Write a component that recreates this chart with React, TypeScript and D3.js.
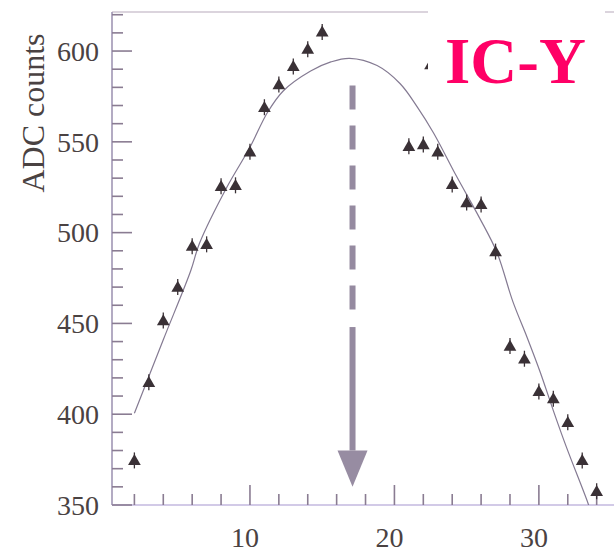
import React from 'react';
import * as d3 from 'd3';

const channels = [2, 3, 4, 5, 6, 7, 8, 9, 10, 11, 12, 13, 14, 15, 21, 22, 23, 24, 25, 26, 27, 28, 29, 30, 31, 32, 33, 34, 22.5];
const adcCounts = [374, 417, 451, 469.5, 492, 493, 525, 525.5, 544, 568.5, 581, 591, 600.5, 610, 547, 548, 544, 526, 516, 515, 489, 437, 430, 412, 408, 395, 374, 357, 592];

// fitted curve
const fitX = [2, 4, 5.9, 6.5, 8.4, 10, 11.2, 12.3, 14.2, 15.6, 16.9, 18.8, 20.4, 21.6, 22.7, 24.3, 25.9, 27.1, 28.2, 29.2, 30.1, 31, 31.9, 33.4, 33.6];
const fitY = [400.5, 441, 479, 494, 525, 547, 566, 578, 589, 594, 596, 592, 582, 569, 555, 531, 508, 489, 462, 442, 423, 402, 382, 351, 346];

const yTicks = d3.range(350, 621, 10);
const yLabels = [350, 400, 450, 500, 550, 600];
const xTicks = d3.range(2, 35, 2);
const xLabels = [10, 20, 30];

// peak marker arrow (channel, counts)
const arrowX = 17.1;
const arrowDash = [581, 456];
const arrowSolid = [448, 380];
const arrowTip = 360;

const WIDTH = 614;
const HEIGHT = 555;
const FONT = '"Liberation Serif", "Times New Roman", serif';

export default function App() {
  const left = 112, right = 614, top = 12, bottom = 505;

  const x = d3.scaleLinear().domain([0.45, 35.2]).range([left, right]);
  const y = d3.scaleLinear().domain([350, 621.5]).range([bottom, top]);

  const fitLine = d3.line<number>()
    .x((d, i) => x(fitX[i]))
    .y((d) => y(d))
    .curve(d3.curveCatmullRom.alpha(0.5));

  const tri = d3.symbol().type(d3.symbolTriangle).size(70)();

  const axisColor = '#a096b4';
  const tickColor = '#8a7c92';
  const labelColor = '#4a4242';

  const ax = x(arrowX);
  const headBase = y(arrowSolid[1]);
  const tipY = y(arrowTip);

  return (
    <svg width={WIDTH} height={HEIGHT} style={{ position: 'absolute', left: 0, top: 0, background: '#fff' }}>
      <defs>
        <clipPath id="plot">
          <rect x={left} y={top} width={right - left} height={bottom - top} />
        </clipPath>
      </defs>

      {/* frame */}
      <line x1={left} x2={right} y1={top} y2={top} stroke="#cfc6d2" strokeWidth={1.5} />
      <line x1={left} x2={left} y1={top} y2={bottom} stroke={axisColor} strokeWidth={1.6} />
      <line x1={left} x2={right} y1={bottom} y2={bottom} stroke="#c3b8df" strokeWidth={1.6} />

      {/* y ticks */}
      {yTicks.map((t) => (
        <line key={'yt' + t} x1={left} x2={left + (t % 50 === 0 ? 20 : 11)} y1={y(t)} y2={y(t)}
          stroke={tickColor} strokeWidth={1.6} />
      ))}
      {yLabels.map((t) => (
        <text key={'yl' + t} x={99} y={y(t)} dy="0.35em" textAnchor="end" fontFamily={FONT}
          fontSize={28} fill={labelColor}>{t}</text>
      ))}
      <text transform={`translate(33,113) rotate(-90)`} dy="0.35em" textAnchor="middle" fontFamily={FONT}
        fontSize={32} fill={labelColor}>ADC counts</text>

      {/* x ticks */}
      {xTicks.map((t) => (
        <line key={'xt' + t} x1={x(t)} x2={x(t)} y1={bottom} y2={bottom - (t % 10 === 0 ? 20 : 11)}
          stroke={tickColor} strokeWidth={1.6} />
      ))}
      {xLabels.map((t) => (
        <text key={'xl' + t} x={x(t) - 5} y={547} textAnchor="middle" fontFamily={FONT}
          fontSize={28} fill={labelColor}>{t}</text>
      ))}

      {/* fit */}
      <g clipPath="url(#plot)">
        <path d={fitLine(fitY) || ''} fill="none" stroke="#847a92" strokeWidth={1.2} />
      </g>

      {/* arrow */}
      <line x1={ax} x2={ax} y1={y(arrowDash[0])} y2={y(arrowDash[1])} stroke="#958aa0"
        strokeWidth={6} strokeDasharray="24 16" />
      <line x1={ax} x2={ax} y1={y(arrowSolid[0])} y2={headBase} stroke="#958aa0" strokeWidth={6} />
      <path d={`M${ax - 15},${headBase} L${ax + 15},${headBase} L${ax},${tipY} Z`} fill="#978ca2" />

      {/* data points */}
      {channels.map((c, i) => (
        <g key={'p' + i} transform={`translate(${x(c)},${y(adcCounts[i])})`}>
          <line x1={0} x2={0} y1={-9} y2={7} stroke="#3a3136" strokeWidth={1.3} />
          <path d={tri || ''} fill="#3a3136" />
        </g>
      ))}

      {/* label box */}
      <rect x={428} y={10} width={177} height={64} fill="#fff" />
      <text x={445} y={83} fontFamily={FONT} fontWeight="bold" fontSize={65} fill="#ff0066">IC-Y</text>
    </svg>
  );
}
